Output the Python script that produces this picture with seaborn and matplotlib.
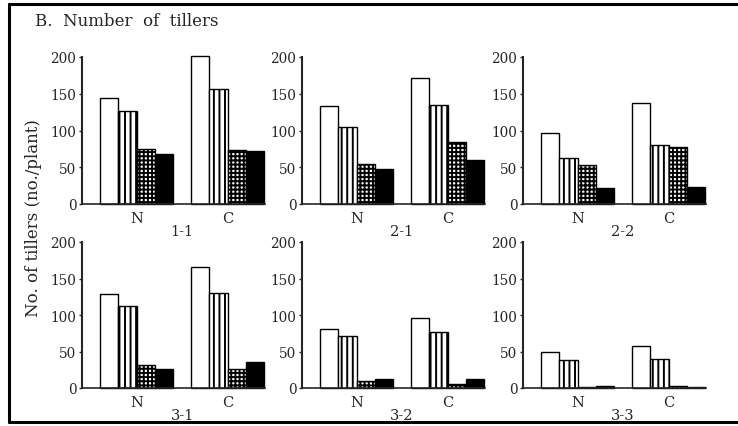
import pandas as pd
import seaborn as sns
import matplotlib.pyplot as plt
from matplotlib.lines import Line2D

# panel names, N/C groups and the four bar types in each group
panels = ["1-1", "2-1", "2-2", "3-1", "3-2", "3-3"]
groups = ["N", "C"]
kinds = ["open", "striped", "checked", "solid"]

# tillers per plant (N group, C group)
tillers_11 = [[144, 127, 75, 68], [202, 157, 74, 72]]
tillers_21 = [[133, 105, 55, 47], [172, 135, 84, 60]]
tillers_22 = [[97, 62, 53, 22], [137, 80, 78, 23]]
tillers_31 = [[129, 113, 31, 26], [166, 130, 26, 36]]
tillers_32 = [[81, 71, 9, 13], [96, 77, 6, 12]]
tillers_33 = [[49, 39, 2, 3], [57, 40, 3, 2]]

yticks = [0, 50, 100, 150, 200]

all_vals = [tillers_11, tillers_21, tillers_22, tillers_31, tillers_32, tillers_33]
rows = []
for name, vals in zip(panels, all_vals):
    for g, gv in zip(groups, vals):
        for k, v in zip(kinds, gv):
            rows.append({"panel": name, "group": g, "kind": k, "tillers": v})
df = pd.DataFrame(rows)

sns.set_style("ticks")
plt.rcParams["font.family"] = ["DejaVu Serif"]
plt.rcParams["hatch.linewidth"] = 1.4

W, H = 738, 427
fig = plt.figure(figsize=(W / 100, H / 100), dpi=100)

# pixel layout of the panels: left axis x, top (200) y, bottom (0) y
lefts = [82, 302, 523]
row_y = [(58, 205), (243, 389)]
px_per_unit = 91
x_lo, x_hi = -0.6, 1.41

hatches = ["", "|||", "++++", ""]
faces = ["white", "white", "white", "black"]

for i, name in enumerate(panels):
    r, c = divmod(i, 3)
    top, bot = row_y[r]
    left = lefts[c]
    wpx = (x_hi - x_lo) * px_per_unit
    ax = fig.add_axes([left / W, 1 - bot / H, wpx / W, (bot - top) / H])
    sub = df[df["panel"] == name]
    sns.barplot(data=sub, x="group", y="tillers", hue="kind", order=groups,
                hue_order=kinds, palette=faces, saturation=1, edgecolor="black",
                linewidth=1.0, errorbar=None, legend=False, ax=ax)
    for cont, h in zip(ax.containers, hatches):
        for bar in cont:
            bar.set_hatch(h)
            bar.set_clip_on(False)
    ax.set_xlim(x_lo, x_hi)
    ax.set_ylim(0, 200)
    ax.set_yticks(yticks)
    ax.set_yticklabels([str(t) for t in yticks], fontsize=9.8)
    ax.set_yticks([200], minor=True)
    ax.tick_params(axis="y", which="major", direction="out", length=2.5, width=1, pad=1.5)
    ax.tick_params(axis="y", which="minor", direction="in", length=13, width=1.5)
    ax.tick_params(axis="x", length=0, pad=5, labelsize=10.5)
    ax.set_xlabel("")
    ax.set_ylabel("")
    sns.despine(ax=ax)
    ax.spines["left"].set_linewidth(1.5)
    ax.spines["bottom"].set_linewidth(1.2)
    # panel name under the middle of the two groups
    ax.annotate(name, xy=(0.5, 0), xycoords=("data", "axes fraction"),
                xytext=(0, -27 * 0.72), textcoords="offset points",
                ha="center", va="center", fontsize=10.5)

fig.text(35 / W, 1 - 22 / H, "B.  Number  of  tillers", ha="left", va="center", fontsize=12)
fig.text(34 / W, 1 - 218 / H, "No. of tillers (no./plant)", rotation=90,
         ha="center", va="center", fontsize=12)

# outer frame: left, top and bottom edges
fx0, fy_top, fy_bot = 9 / W, 1 - 5 / H, 1 - 423 / H
fig.add_artist(Line2D([fx0, fx0], [fy_bot, fy_top], transform=fig.transFigure, color="black", lw=2.2))
fig.add_artist(Line2D([fx0, 1], [fy_top, fy_top], transform=fig.transFigure, color="black", lw=2.2))
fig.add_artist(Line2D([fx0, 1], [fy_bot, fy_bot], transform=fig.transFigure, color="black", lw=2.2))

fig.savefig("out.png", dpi=100)
